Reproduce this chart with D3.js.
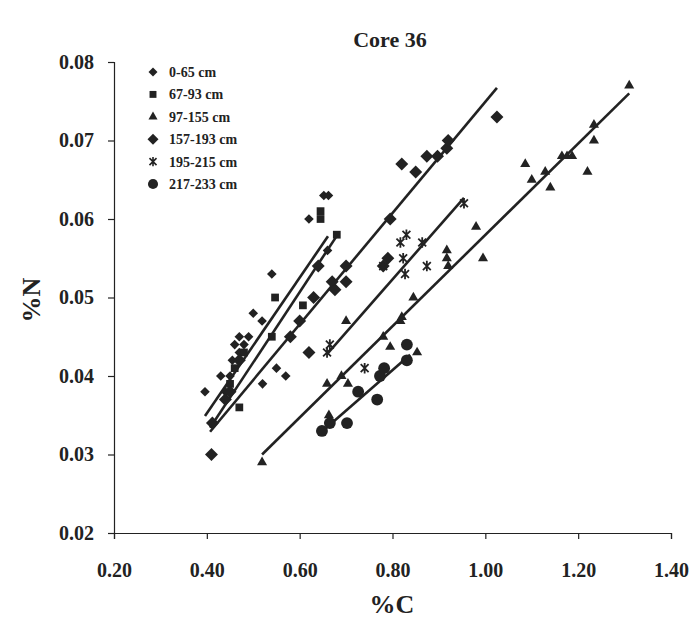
<!DOCTYPE html>
<html>
<head>
<meta charset="utf-8">
<script src="https://cdn.jsdelivr.net/npm/d3@7"></script>
<style>
  body { margin: 0; background: #fff; }
  text { font-family: "Liberation Serif", "Times New Roman", serif; font-weight: bold; fill: #222; }
</style>
</head>
<body>
<svg width="691" height="620"></svg>
<script>
// depth intervals, as in the legend
const depths = ["0-65 cm", "67-93 cm", "97-155 cm", "157-193 cm", "195-215 cm", "217-233 cm"];

// [%C, %N]
const d0_65 = [[0.396,0.038],[0.43,0.040],[0.44,0.038],[0.45,0.040],[0.455,0.042],[0.46,0.044],[0.47,0.045],
  [0.47,0.043],[0.48,0.044],[0.49,0.045],[0.50,0.048],[0.519,0.047],[0.52,0.039],[0.54,0.053],[0.55,0.041],
  [0.57,0.040],[0.62,0.060],[0.652,0.063],[0.662,0.063],[0.66,0.056]];
const d67_93 = [[0.45,0.039],[0.46,0.041],[0.47,0.036],[0.48,0.043],[0.54,0.045],[0.547,0.050],[0.607,0.049],
  [0.645,0.061],[0.645,0.060],[0.68,0.058]];
const d97_155 = [[0.519,0.029],[0.659,0.039],[0.663,0.035],[0.69,0.040],[0.704,0.039],[0.70,0.047],[0.78,0.045],
  [0.795,0.0437],[0.853,0.043],[0.82,0.0475],[0.817,0.047],[0.845,0.050],[0.917,0.056],[0.917,0.055],[0.92,0.054],
  [0.98,0.059],[0.995,0.055],[1.086,0.067],[1.10,0.065],[1.129,0.066],[1.14,0.064],[1.165,0.068],[1.176,0.068],
  [1.187,0.068],[1.22,0.066],[1.234,0.070],[1.234,0.072],[1.31,0.077]];
const d157_193 = [[0.41,0.030],[0.412,0.034],[0.44,0.037],[0.45,0.038],[0.47,0.042],[0.58,0.045],[0.60,0.047],
  [0.62,0.043],[0.63,0.050],[0.64,0.054],[0.67,0.052],[0.676,0.051],[0.70,0.052],[0.70,0.054],[0.78,0.054],
  [0.79,0.055],[0.795,0.060],[0.82,0.067],[0.85,0.066],[0.874,0.068],[0.897,0.068],[0.917,0.069],[0.92,0.070],
  [1.025,0.073]];
const d195_215 = [[0.659,0.043],[0.665,0.044],[0.74,0.041],[0.78,0.054],[0.817,0.057],[0.83,0.058],[0.864,0.057],
  [0.823,0.055],[0.874,0.054],[0.827,0.053],[0.954,0.062]];
const d217_233 = [[0.648,0.033],[0.665,0.034],[0.702,0.034],[0.726,0.038],[0.767,0.037],[0.773,0.040],
  [0.782,0.041],[0.831,0.042],[0.831,0.044]];

// fitted lines, [[x0,y0],[x1,y1]]
const fits = [
  [[0.396,0.0349],[0.661,0.0578]],
  [[0.407,0.0334],[0.685,0.0583]],
  [[0.519,0.0300],[1.310,0.0760]],
  [[0.407,0.0329],[1.025,0.0767]],
  [[0.659,0.0428],[0.954,0.0627]],
  [[0.644,0.0327],[0.838,0.0427]]
];

const xTicks = [0.2, 0.4, 0.6, 0.8, 1.0, 1.2, 1.4];
const yTicks = [0.02, 0.03, 0.04, 0.05, 0.06, 0.07, 0.08];

const series = [d0_65, d67_93, d97_155, d157_193, d195_215, d217_233];

// a "ж" like star for 195-215
const starSym = {
  draw(ctx, size) {
    const r = Math.sqrt(size) / 2;
    const a = r * 0.75;
    ctx.moveTo(-a, -a); ctx.lineTo(a, a);
    ctx.moveTo(a, -a); ctx.lineTo(-a, a);
    ctx.moveTo(0, -r); ctx.lineTo(0, r);
  }
};
const shapes = [
  {type: d3.symbolSquare, size: 46, rot: 45, stroke: false},
  {type: d3.symbolSquare, size: 60, rot: 0, stroke: false},
  {type: d3.symbolTriangle, size: 44, rot: 0, stroke: false},
  {type: d3.symbolSquare, size: 84, rot: 45, stroke: false},
  {type: starSym, size: 110, rot: 0, stroke: true},
  {type: d3.symbolCircle, size: 110, rot: 0, stroke: false}
];
const ink = "#222";

const svg = d3.select("svg");
const x = d3.scaleLinear().domain([0.2, 1.4]).range([114, 671]);
const y = d3.scaleLinear().domain([0.02, 0.08]).range([533, 62]);

const xAxis = svg.append("g").attr("transform", "translate(0,533)")
  .call(d3.axisBottom(x).tickValues(xTicks).tickSize(6).tickSizeOuter(6).tickFormat(d3.format(".2f")));
const yAxis = svg.append("g").attr("transform", "translate(114,0)")
  .call(d3.axisLeft(y).tickValues(yTicks).tickSize(6).tickSizeOuter(6).tickFormat(d3.format(".2f")));

[xAxis, yAxis].forEach(a => {
  a.select(".domain").attr("stroke", ink).attr("stroke-width", 1.2);
  a.selectAll(".tick line").attr("stroke", ink).attr("stroke-width", 1.2);
  a.selectAll(".tick text").attr("fill", ink).style("font-size", "20px")
    .style("font-family", "'Liberation Serif', serif").style("font-weight", "bold");
});
xAxis.selectAll(".tick text").attr("dy", "1.75em");
yAxis.selectAll(".tick text").attr("x", -20);

// titles
svg.append("text").attr("x", 390).attr("y", 47).attr("text-anchor", "middle")
  .style("font-size", "22px").text("Core 36");
svg.append("text").attr("x", 392).attr("y", 613).attr("text-anchor", "middle")
  .style("font-size", "26px").text("%C");
svg.append("text").attr("transform", "translate(40,300) rotate(-90)").attr("text-anchor", "middle")
  .style("font-size", "26px").text("%N");

// fit lines
const line = d3.line().x(d => x(d[0])).y(d => y(d[1]));
svg.append("g").selectAll("path").data(fits).join("path")
  .attr("d", line).attr("fill", "none").attr("stroke", ink).attr("stroke-width", 2.6);

// points
series.forEach((pts, i) => {
  const s = shapes[i];
  const sym = d3.symbol().type(s.type).size(s.size);
  svg.append("g").selectAll("path").data(pts).join("path")
    .attr("transform", d => `translate(${x(d[0])},${y(d[1])}) rotate(${s.rot})`)
    .attr("d", sym)
    .attr("fill", s.stroke ? "none" : ink)
    .attr("stroke", s.stroke ? ink : "none")
    .attr("stroke-width", 1.8);
});

// legend
const legend = svg.append("g").attr("transform", "translate(153,72)");
depths.forEach((name, i) => {
  const s = shapes[i];
  const sz = i === 0 ? 40 : i === 3 ? 60 : i === 5 ? 80 : s.size * 0.8;
  legend.append("path")
    .attr("transform", `translate(0,${i * 22.4}) rotate(${s.rot})`)
    .attr("d", d3.symbol().type(s.type).size(sz))
    .attr("fill", s.stroke ? "none" : ink)
    .attr("stroke", s.stroke ? ink : "none")
    .attr("stroke-width", 1.6);
  legend.append("text").attr("x", 16).attr("y", i * 22.4 + 5)
    .style("font-size", "14px").text(name);
});
</script>
</body>
</html>
